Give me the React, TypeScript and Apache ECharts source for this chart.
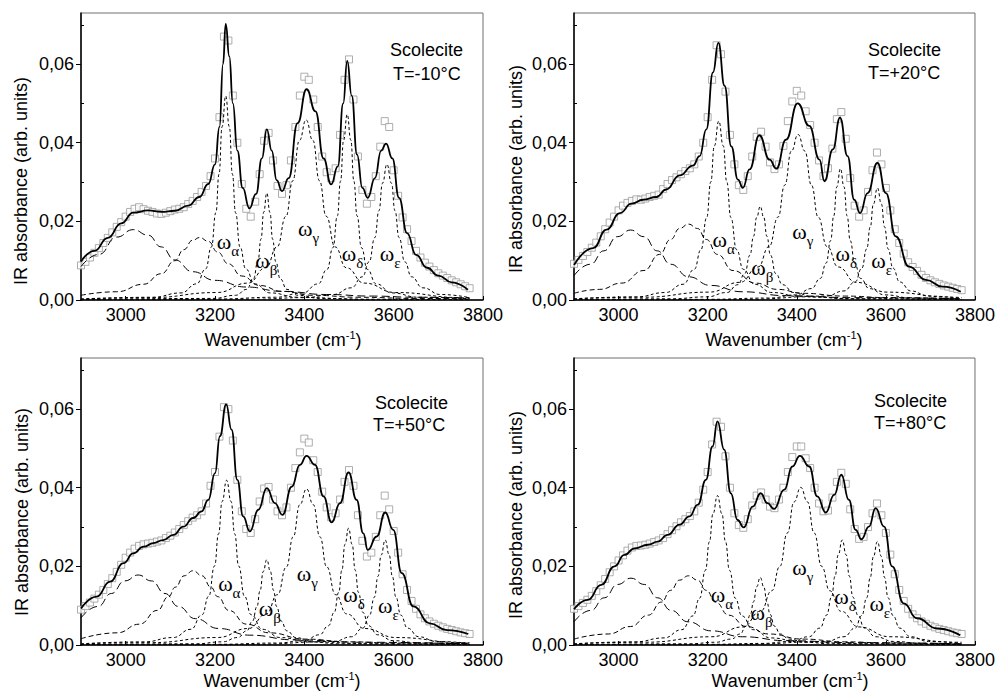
import React, { useEffect, useRef } from 'react';
import * as echarts from 'echarts';

// ---------- shared axis values ----------
const X_TICKS = [3000, 3200, 3400, 3600, 3800];
const Y_TICKS = [0, 0.02, 0.04, 0.06];
const Y_MINOR = [0.01, 0.03, 0.05, 0.07];

// wavenumber grid of the measured points (cm-1)
const SAMPLE_X = [
  2900, 2910, 2920, 2930, 2940, 2950, 2960, 2970, 2980, 2990,
  3000, 3010, 3020, 3030, 3040, 3050, 3060, 3070, 3080, 3090,
  3100, 3110, 3120, 3130, 3140, 3150, 3160, 3170, 3180, 3190,
  3200, 3210, 3220, 3230, 3240, 3250, 3260, 3270, 3280, 3290,
  3300, 3310, 3320, 3330, 3340, 3350, 3360, 3370, 3380, 3390,
  3400, 3410, 3420, 3430, 3440, 3450, 3460, 3470, 3480, 3490,
  3500, 3510, 3520, 3530, 3540, 3550, 3560, 3570, 3580, 3590,
  3600, 3610, 3620, 3630, 3640, 3650, 3660, 3670, 3680, 3690,
  3700, 3710, 3720, 3730, 3740, 3750, 3760, 3770,
];

// ---------- T = -10 C ----------
const M10_SCATTER = [
  .0088, .0097, .0108, .0120, .0132, .0145, .0158, .0172, .0186, .0198,
  .0212, .0224, .0232, .0236, .0231, .0227, .0224, .0220, .0219, .0222,
  .0226, .0230, .0232, .0236, .0244, .0252, .0262, .0275, .0290, .0315,
  .0360, .0465, .0670, .0660, .0520, .0400, .0295, .0232, .0212, .0250,
  .0320, .0405, .0425, .0355, .0290, .0270, .0292, .0355, .0440, .0520,
  .0568, .0560, .0510, .0440, .0365, .0325, .0310, .0335, .0420, .0560,
  .0612, .0510, .0365, .0280, .0245, .0262, .0315, .0390, .0455, .0440,
  .0330, .0265, .0210, .0180, .0150, .0125, .0108, .0095, .0085, .0076,
  .0068, .0062, .0056, .0050, .0045, .0040, .0035, .0030,
];
const M10_FIT = [
  [2900, .0098], [2930, .0125], [2960, .0158], [2990, .0195], [3017, .0222], [3050, .0228], [3080, .0224],
  [3110, .0227], [3140, .0240], [3165, .0262], [3185, .0295], [3200, .0345], [3210, .0440], [3218, .0600],
  [3224, .0702], [3232, .0620], [3240, .0500], [3250, .0380], [3262, .0285], [3277, .0233], [3292, .0270],
  [3305, .0360], [3316, .0434], [3327, .0380], [3338, .0305], [3350, .0277], [3365, .0310], [3385, .0450],
  [3405, .0536], [3425, .0480], [3443, .0360], [3460, .0294], [3475, .0340], [3487, .0500], [3496, .0608],
  [3506, .0520], [3518, .0370], [3530, .0285], [3542, .0260], [3558, .0310], [3572, .0380], [3583, .0398],
  [3597, .0360], [3612, .0260], [3630, .0170], [3650, .0115], [3675, .0082], [3700, .0062], [3730, .0045],
  [3766, .0026],
];
const M10_C1 = [[2900, .0085], [2940, .0116], [2980, .0160], [3017, .0179], [3050, .0165], [3080, .0135], [3110, .0102], [3150, .0072], [3200, .0050], [3270, .0033], [3350, .0022], [3450, .0014], [3550, .0010], [3650, .0007], [3770, .0005]];
const M10_C2 = [[2900, .0012], [2980, .0021], [3040, .0040], [3080, .0067], [3110, .0100], [3130, .0128], [3150, .0152], [3166, .0159], [3185, .0149], [3206, .0122], [3230, .0092], [3260, .0061], [3300, .0037], [3350, .0022], [3420, .0012], [3520, .0007], [3650, .0004], [3770, .0003]];
const M10_ALPHA = [[2900, .0002], [3060, .0007], [3124, .0018], [3159, .0041], [3179, .0079], [3192, .0135], [3202, .0222], [3209, .0320], [3216, .0441], [3224, .0519], [3232, .0441], [3239, .0320], [3246, .0222], [3256, .0135], [3269, .0079], [3289, .0041], [3324, .0018], [3384, .0007], [3524, .0002], [3770, .0001]];
const M10_BETA = [[2900, .0001], [3196, .0004], [3246, .0012], [3271, .0027], [3286, .0054], [3296, .0098], [3303, .0155], [3309, .0223], [3316, .0272], [3323, .0223], [3329, .0155], [3336, .0098], [3346, .0054], [3361, .0027], [3386, .0012], [3436, .0004], [3566, .0001], [3770, .0001]];
const M10_GAMMA = [[2900, .0003], [3054, .0006], [3204, .0019], [3274, .0043], [3314, .0082], [3339, .0135], [3359, .0213], [3374, .0303], [3389, .0406], [3404, .0458], [3419, .0406], [3434, .0303], [3449, .0213], [3469, .0135], [3494, .0082], [3534, .0043], [3604, .0019], [3754, .0006], [3770, .0006]];
const M10_DELTA = [[2900, .0001], [3196, .0002], [3336, .0007], [3396, .0018], [3431, .0041], [3451, .0078], [3464, .0133], [3474, .0214], [3481, .0302], [3488, .0407], [3496, .0472], [3504, .0407], [3511, .0302], [3518, .0214], [3528, .0133], [3541, .0078], [3561, .0041], [3596, .0018], [3656, .0007], [3770, .0003]];
const M10_EPS = [[2900, .0001], [3285, .0002], [3400, .0006], [3465, .0014], [3505, .0031], [3530, .0059], [3545, .0097], [3558, .0159], [3567, .0227], [3575, .0297], [3585, .0345], [3595, .0297], [3603, .0227], [3612, .0159], [3625, .0097], [3640, .0059], [3665, .0031], [3705, .0014], [3770, .0006]];
const M10_LABELS = [[3204, .0140, 'α'], [3290, .0094, 'β'], [3386, .0173, 'γ'], [3484, .0110, 'δ'], [3569, .0110, 'ε']];

// ---------- T = +20 C ----------
const P20_SCATTER = [
  .0092, .0102, .0112, .0122, .0133, .0146, .0162, .0180, .0197, .0212,
  .0228, .0240, .0247, .0252, .0256, .0255, .0258, .0262, .0265, .0268,
  .0282, .0295, .0305, .0312, .0320, .0328, .0335, .0345, .0365, .0400,
  .0465, .0560, .0648, .0625, .0530, .0420, .0345, .0292, .0280, .0315,
  .0365, .0415, .0428, .0390, .0350, .0333, .0345, .0392, .0455, .0505,
  .0532, .0520, .0480, .0445, .0400, .0355, .0315, .0335, .0385, .0460,
  .0478, .0410, .0310, .0240, .0212, .0228, .0275, .0330, .0375, .0345,
  .0285, .0228, .0180, .0145, .0118, .0096, .0084, .0074, .0064, .0056,
  .0050, .0045, .0041, .0037, .0034, .0031, .0028, .0025,
];
const P20_FIT = [
  [2900, .0089], [2943, .0132], [2973, .0179], [3003, .0221], [3029, .0245], [3055, .0255], [3085, .0262],
  [3107, .0281], [3137, .0317], [3167, .0342], [3182, .0366], [3197, .0434], [3212, .0579], [3224, .0654],
  [3238, .0545], [3253, .0391], [3268, .0306], [3279, .0285], [3294, .0332], [3316, .0419], [3339, .0357],
  [3354, .0334], [3376, .0408], [3402, .0500], [3428, .0443], [3451, .0357], [3462, .0302], [3481, .0383],
  [3497, .0464], [3514, .0366], [3529, .0255], [3542, .0221], [3559, .0272], [3581, .0349], [3600, .0272],
  [3622, .0162], [3652, .0085], [3690, .0051], [3727, .0034], [3768, .0021],
];
const P20_C1 = [[2900, .0062], [2937, .0091], [2967, .0125], [2997, .0161], [3027, .0178], [3057, .0161], [3087, .0125], [3117, .0091], [3157, .0059], [3207, .0037], [3277, .0021], [3377, .0011], [3527, .0006], [3770, .0003]];
const P20_C2 = [[2900, .0017], [2957, .0027], [3007, .0043], [3057, .0075], [3092, .0116], [3117, .0154], [3137, .0182], [3157, .0193], [3177, .0182], [3197, .0154], [3222, .0116], [3257, .0075], [3307, .0043], [3357, .0027], [3414, .0017], [3507, .0010], [3607, .0006], [3770, .0003]];
const P20_ALPHA = [[2900, .0003], [3040, .0008], [3105, .0019], [3145, .0040], [3170, .0078], [3185, .0128], [3198, .0210], [3207, .0300], [3215, .0392], [3225, .0455], [3235, .0392], [3243, .0300], [3252, .0210], [3265, .0128], [3280, .0078], [3305, .0040], [3345, .0019], [3410, .0008], [3550, .0003], [3770, .0001]];
const P20_BETA = [[2900, .0001], [3118, .0003], [3198, .0008], [3243, .0019], [3268, .0039], [3283, .0067], [3295, .0114], [3303, .0162], [3310, .0210], [3318, .0238], [3326, .0210], [3333, .0162], [3341, .0114], [3353, .0067], [3368, .0039], [3393, .0019], [3438, .0008], [3518, .0003], [3770, .0001]];
const P20_GAMMA = [[2900, .0003], [3053, .0007], [3203, .0020], [3273, .0045], [3313, .0084], [3338, .0136], [3358, .0211], [3373, .0292], [3388, .0379], [3403, .0421], [3418, .0379], [3433, .0292], [3448, .0211], [3468, .0136], [3493, .0084], [3533, .0045], [3603, .0020], [3753, .0007], [3770, .0006]];
const P20_DELTA = [[2900, .0001], [3198, .00015], [3338, .0005], [3398, .0013], [3433, .0029], [3453, .0055], [3466, .0094], [3476, .0151], [3483, .0214], [3490, .0288], [3498, .0334], [3506, .0288], [3513, .0214], [3520, .0151], [3530, .0094], [3543, .0055], [3563, .0029], [3598, .0013], [3658, .0005], [3770, .0002]];
const P20_EPS = [[2900, .0001], [3281, .00015], [3466, .0010], [3506, .0023], [3531, .0046], [3546, .0081], [3557, .0130], [3565, .0186], [3572, .0244], [3581, .0285], [3590, .0244], [3597, .0186], [3605, .0130], [3616, .0081], [3631, .0046], [3656, .0023], [3696, .0010], [3770, .0004]];
const P20_LABELS = [[3211, .0145, 'α'], [3298, .0076, 'β'], [3390, .0166, 'γ'], [3487, .0110, 'δ'], [3567, .0094, 'ε']];

// ---------- T = +50 C ----------
const P50_SCATTER = [
  .0090, .0099, .0108, .0118, .0128, .0140, .0155, .0170, .0186, .0204,
  .0222, .0235, .0245, .0252, .0256, .0258, .0260, .0263, .0266, .0272,
  .0278, .0286, .0295, .0305, .0315, .0324, .0330, .0340, .0360, .0405,
  .0440, .0530, .0605, .0600, .0520, .0420, .0340, .0295, .0285, .0320,
  .0365, .0398, .0402, .0370, .0340, .0330, .0350, .0400, .0450, .0490,
  .0525, .0515, .0470, .0440, .0390, .0350, .0325, .0335, .0370, .0415,
  .0445, .0405, .0330, .0265, .0225, .0235, .0275, .0330, .0380, .0345,
  .0290, .0235, .0180, .0140, .0112, .0092, .0078, .0068, .0060, .0054,
  .0049, .0045, .0041, .0038, .0035, .0032, .0030, .0028,
];
const P50_FIT = [
  [2900, .0093], [2935, .0123], [2965, .0161], [2995, .0208], [3017, .0233], [3040, .0250], [3062, .0259],
  [3084, .0267], [3107, .0280], [3129, .0301], [3151, .0323], [3170, .0340], [3185, .0369], [3200, .0437],
  [3211, .0531], [3225, .0612], [3237, .0548], [3250, .0420], [3263, .0327], [3278, .0289], [3297, .0344],
  [3316, .0399], [3334, .0361], [3351, .0331], [3372, .0403], [3390, .0458], [3405, .0481], [3424, .0458],
  [3443, .0378], [3461, .0312], [3480, .0361], [3499, .0439], [3517, .0369], [3532, .0284], [3542, .0242],
  [3562, .0276], [3581, .0337], [3599, .0293], [3618, .0183], [3644, .0098], [3681, .0055], [3719, .0038],
  [3767, .0028],
];
const P50_C1 = [[2900, .0069], [2938, .0098], [2968, .0131], [2998, .0163], [3028, .0178], [3058, .0163], [3088, .0131], [3118, .0098], [3156, .0067], [3208, .0042], [3278, .0025], [3378, .0013], [3528, .0007], [3770, .0003]];
const P50_C2 = [[2900, .0016], [2981, .0031], [3031, .0053], [3071, .0088], [3096, .0123], [3111, .0147], [3131, .0176], [3151, .0189], [3171, .0176], [3191, .0147], [3206, .0123], [3231, .0088], [3271, .0053], [3321, .0031], [3402, .0015], [3501, .0008], [3601, .0005], [3770, .0003]];
const P50_ALPHA = [[2900, .0003], [3041, .0008], [3106, .0019], [3146, .0040], [3171, .0077], [3186, .0124], [3199, .0201], [3208, .0283], [3216, .0365], [3226, .0419], [3236, .0365], [3244, .0283], [3253, .0201], [3266, .0124], [3281, .0077], [3306, .0040], [3346, .0019], [3411, .0008], [3552, .0003], [3770, .0001]];
const P50_BETA = [[2900, .0001], [3156, .0003], [3216, .0008], [3251, .0019], [3271, .0036], [3284, .0061], [3294, .0098], [3301, .0139], [3308, .0187], [3316, .0217], [3324, .0187], [3331, .0139], [3338, .0098], [3348, .0061], [3361, .0036], [3381, .0019], [3416, .0008], [3476, .0003], [3770, .0001]];
const P50_GAMMA = [[2900, .0003], [3055, .0006], [3205, .0019], [3275, .0042], [3315, .0079], [3340, .0128], [3360, .0199], [3375, .0275], [3390, .0357], [3405, .0397], [3420, .0357], [3435, .0275], [3450, .0199], [3470, .0128], [3495, .0079], [3535, .0042], [3605, .0019], [3755, .0006], [3770, .0006]];
const P50_DELTA = [[2900, .0001], [3199, .00015], [3339, .0005], [3399, .0011], [3434, .0026], [3454, .0049], [3467, .0083], [3477, .0134], [3484, .0190], [3491, .0256], [3499, .0297], [3507, .0256], [3514, .0190], [3521, .0134], [3531, .0083], [3544, .0049], [3564, .0026], [3599, .0011], [3659, .0005], [3770, .0002]];
const P50_EPS = [[2900, .0001], [3281, .00015], [3466, .0009], [3506, .0021], [3531, .0043], [3546, .0076], [3557, .0122], [3565, .0175], [3572, .0229], [3581, .0267], [3590, .0229], [3597, .0175], [3605, .0122], [3616, .0076], [3631, .0043], [3656, .0021], [3696, .0009], [3770, .0004]];
const P50_LABELS = [[3207, .0148, 'α'], [3298, .0084, 'β'], [3383, .0173, 'γ'], [3487, .0122, 'δ'], [3565, .0094, 'ε']];

// ---------- T = +80 C ----------
const P80_SCATTER = [
  .0092, .0099, .0107, .0115, .0125, .0137, .0152, .0168, .0185, .0200,
  .0215, .0228, .0240, .0248, .0252, .0253, .0255, .0258, .0262, .0266,
  .0272, .0282, .0292, .0302, .0312, .0320, .0328, .0340, .0362, .0395,
  .0440, .0510, .0568, .0555, .0480, .0400, .0335, .0305, .0298, .0320,
  .0355, .0380, .0388, .0370, .0352, .0348, .0370, .0400, .0440, .0478,
  .0505, .0505, .0475, .0450, .0400, .0360, .0340, .0342, .0375, .0415,
  .0438, .0410, .0345, .0295, .0270, .0275, .0300, .0335, .0360, .0330,
  .0285, .0230, .0180, .0140, .0112, .0092, .0078, .0068, .0060, .0054,
  .0049, .0045, .0041, .0038, .0035, .0032, .0030, .0028,
];
const P80_FIT = [
  [2900, .0091], [2931, .0115], [2961, .0153], [2991, .0200], [3013, .0229], [3036, .0246], [3066, .0255],
  [3088, .0263], [3110, .0280], [3137, .0306], [3159, .0327], [3178, .0357], [3196, .0420], [3211, .0505],
  [3222, .0569], [3237, .0497], [3252, .0386], [3267, .0318], [3281, .0299], [3301, .0352], [3319, .0386],
  [3334, .0361], [3349, .0346], [3372, .0395], [3390, .0454], [3407, .0481], [3428, .0454], [3446, .0378],
  [3465, .0337], [3484, .0382], [3500, .0433], [3517, .0369], [3532, .0293], [3545, .0269], [3562, .0301],
  [3577, .0348], [3596, .0301], [3614, .0200], [3640, .0106], [3670, .0068], [3715, .0042], [3767, .0025],
];
const P80_C1 = [[2900, .0059], [2938, .0088], [2968, .0120], [2998, .0154], [3028, .0170], [3058, .0154], [3088, .0120], [3118, .0088], [3156, .0059], [3208, .0036], [3278, .0021], [3378, .0011], [3528, .0006], [3770, .0003]];
const P80_C2 = [[2900, .0015], [2977, .0028], [3027, .0047], [3067, .0076], [3096, .0109], [3117, .0139], [3137, .0165], [3157, .0176], [3177, .0165], [3197, .0139], [3218, .0109], [3247, .0076], [3287, .0047], [3337, .0028], [3414, .0015], [3507, .0008], [3607, .0005], [3770, .0003]];
const P80_ALPHA = [[2900, .0003], [3037, .0008], [3102, .0018], [3142, .0039], [3167, .0074], [3182, .0119], [3195, .0190], [3204, .0263], [3212, .0334], [3222, .0380], [3232, .0334], [3240, .0263], [3249, .0190], [3262, .0119], [3277, .0074], [3302, .0039], [3342, .0018], [3407, .0008], [3544, .0003], [3770, .0001]];
const P80_BETA = [[2900, .0001], [3158, .0003], [3218, .0007], [3253, .0015], [3273, .0028], [3286, .0048], [3296, .0078], [3303, .0110], [3310, .0148], [3318, .0172], [3326, .0148], [3333, .0110], [3340, .0078], [3350, .0048], [3363, .0028], [3383, .0015], [3418, .0007], [3478, .0003], [3770, .0001]];
const P80_GAMMA = [[2900, .0003], [3059, .0007], [3209, .0021], [3279, .0046], [3319, .0086], [3344, .0138], [3362, .0200], [3379, .0285], [3394, .0364], [3409, .0401], [3424, .0364], [3439, .0285], [3456, .0200], [3474, .0138], [3499, .0086], [3539, .0046], [3609, .0021], [3759, .0007], [3770, .0007]];
const P80_DELTA = [[2900, .0001], [3202, .00015], [3322, .0004], [3387, .0009], [3427, .0021], [3452, .0043], [3467, .0076], [3478, .0122], [3486, .0175], [3493, .0229], [3502, .0267], [3511, .0229], [3518, .0175], [3526, .0122], [3537, .0076], [3552, .0043], [3577, .0021], [3617, .0009], [3682, .0004], [3770, .0002]];
const P80_EPS = [[2900, .0001], [3281, .00015], [3466, .0009], [3506, .0021], [3531, .0043], [3546, .0075], [3557, .0120], [3565, .0172], [3572, .0225], [3581, .0263], [3590, .0225], [3597, .0172], [3605, .0120], [3616, .0075], [3631, .0043], [3656, .0021], [3696, .0009], [3770, .0004]];
const P80_LABELS = [[3207, .0120, 'α'], [3296, .0074, 'β'], [3390, .0190, 'γ'], [3484, .0115, 'δ'], [3563, .0097, 'ε']];

const PANEL_TITLES = ['T=-10°C', 'T=+20°C', 'T=+50°C', 'T=+80°C'];

const FONT = 'Liberation Sans';
const SERIF = 'Liberation Serif';

const PANELS = [
  { scatter: M10_SCATTER, fit: M10_FIT, comps: [M10_C1, M10_C2, M10_ALPHA, M10_BETA, M10_GAMMA, M10_DELTA, M10_EPS], labels: M10_LABELS },
  { scatter: P20_SCATTER, fit: P20_FIT, comps: [P20_C1, P20_C2, P20_ALPHA, P20_BETA, P20_GAMMA, P20_DELTA, P20_EPS], labels: P20_LABELS },
  { scatter: P50_SCATTER, fit: P50_FIT, comps: [P50_C1, P50_C2, P50_ALPHA, P50_BETA, P50_GAMMA, P50_DELTA, P50_EPS], labels: P50_LABELS },
  { scatter: P80_SCATTER, fit: P80_FIT, comps: [P80_C1, P80_C2, P80_ALPHA, P80_BETA, P80_GAMMA, P80_DELTA, P80_EPS], labels: P80_LABELS },
];

const GRIDS = [
  { left: 81, top: 13, width: 402, height: 287 },
  { left: 574, top: 13, width: 403, height: 287 },
  { left: 81, top: 358, width: 402, height: 287 },
  { left: 574, top: 358, width: 403, height: 287 },
];

// annotation positions (pixels)
const TEXT_POS = [
  { sx: 390, sy: 50, tx: 393, ty: 74, yx: 21, yy: 181, xx: 283, xy: 339 },
  { sx: 868, sy: 50, tx: 868, ty: 73, yx: 516, yy: 169, xx: 784, xy: 339 },
  { sx: 375, sy: 403, tx: 373, ty: 425, yx: 22, yy: 512, xx: 282, xy: 680 },
  { sx: 874, sy: 401, tx: 874, ty: 423, yx: 516, yy: 515, xx: 790, xy: 680 },
];

const DASHES = [[8, 4], [5, 3], [3, 2.5], [3, 2.5], [3, 2.5], [3, 2.5], [3, 2.5]];

function baseGraphic() {
  const graphic: any[] = [];
  TEXT_POS.forEach((t, i) => {
    graphic.push({
      type: 'text', x: t.sx, y: t.sy,
      style: { text: 'Scolecite', fontSize: 18, fontFamily: FONT, fill: '#000', align: 'left', verticalAlign: 'middle' },
    });
    graphic.push({
      type: 'text', x: t.tx, y: t.ty,
      style: { text: PANEL_TITLES[i], fontSize: 18, fontFamily: FONT, fill: '#000', align: 'left', verticalAlign: 'middle' },
    });
    graphic.push({
      type: 'text', x: t.yx, y: t.yy, rotation: Math.PI / 2,
      style: { text: 'IR absorbance (arb. units)', fontSize: 18, fontFamily: FONT, fill: '#000', align: 'center', verticalAlign: 'middle' },
    });
    graphic.push({
      type: 'text', x: t.xx, y: t.xy,
      style: {
        text: '{n|Wavenumber (cm}{s|-1}{n|)}',
        align: 'center',
        verticalAlign: 'middle',
        rich: {
          n: { fontSize: 18, fontFamily: FONT, fill: '#000', lineHeight: 20, verticalAlign: 'bottom' },
          s: { fontSize: 11, fontFamily: FONT, fill: '#000', lineHeight: 11, verticalAlign: 'top' },
        },
      },
    });
  });
  return graphic;
}

function buildOption() {
  const grid = GRIDS.map((g) => ({ ...g, show: true, borderColor: '#6e6e6e', borderWidth: 1, backgroundColor: 'transparent' }));
  const xAxis = GRIDS.map((_, i) => ({
    gridIndex: i,
    type: 'value',
    min: 2900,
    max: 3800,
    axisLine: { show: true, onZero: false, lineStyle: { color: '#000', width: 1.5 } },
    axisTick: { show: true, customValues: X_TICKS, inside: true, length: 4, lineStyle: { color: '#000', width: 1 } },
    axisLabel: {
      customValues: X_TICKS,
      formatter: (v: number) => String(Math.round(v)),
      fontSize: 18,
      fontFamily: FONT,
      color: '#000',
      margin: 6,
    },
    splitLine: { show: false },
  }));
  const yAxis: any[] = [];
  GRIDS.forEach((_, i) => {
    yAxis.push({
      gridIndex: i,
      type: 'value',
      position: 'left',
      min: 0,
      max: 0.073,
      axisLine: { show: true, onZero: false, lineStyle: { color: '#000', width: 1.5 } },
      axisTick: { show: true, customValues: Y_TICKS, length: 5, lineStyle: { color: '#000', width: 1 } },
      axisLabel: {
        customValues: Y_TICKS,
        formatter: (v: number) => v.toFixed(2).replace('.', ','),
        fontSize: 18,
        fontFamily: FONT,
        color: '#000',
        margin: 7,
      },
      splitLine: { show: false },
    });
    yAxis.push({
      gridIndex: i,
      type: 'value',
      position: 'left',
      offset: 0,
      min: 0,
      max: 0.073,
      axisLine: { show: false },
      axisTick: { show: true, inside: true, customValues: Y_MINOR, length: 3, lineStyle: { color: '#000', width: 1 } },
      axisLabel: { show: false },
      splitLine: { show: false },
    });
  });

  const series: any[] = [];
  PANELS.forEach((p, i) => {
    series.push({
      type: 'scatter',
      xAxisIndex: i,
      yAxisIndex: 2 * i,
      data: SAMPLE_X.map((x, k) => [x, p.scatter[k]]),
      symbol: 'rect',
      symbolSize: 7,
      itemStyle: { color: '#ffffff', borderColor: '#9a9a9a', borderWidth: 1 },
      z: 1,
      silent: true,
    });
    p.comps.forEach((c, k) => {
      series.push({
        type: 'line',
        xAxisIndex: i,
        yAxisIndex: 2 * i,
        data: c,
        showSymbol: false,
        smooth: 0.5,
        smoothMonotone: 'x',
        lineStyle: { color: '#000', width: 1, type: DASHES[k] },
        z: 2,
        silent: true,
      });
    });
    series.push({
      type: 'line',
      xAxisIndex: i,
      yAxisIndex: 2 * i,
      data: p.fit,
      showSymbol: false,
      smooth: 0.5,
      smoothMonotone: 'x',
      lineStyle: { color: '#000', width: 1.8 },
      z: 3,
      silent: true,
    });
  });

  return { animation: false, grid, xAxis, yAxis, series, graphic: baseGraphic() };
}

export default function App() {
  const ref = useRef<HTMLDivElement>(null);
  useEffect(() => {
    document.body.style.margin = '0';
    const chart = echarts.init(ref.current!, undefined, { renderer: 'svg' });
    chart.setOption(buildOption() as any);
    // omega labels: anchored in data coordinates through the axes' scales
    const omegas: any[] = [];
    PANELS.forEach((p, i) => {
      p.labels.forEach((l) => {
        const pt = chart.convertToPixel({ xAxisIndex: i, yAxisIndex: 2 * i } as any, [l[0] as number, l[1] as number]) as number[];
        omegas.push({
          type: 'text',
          x: pt[0],
          y: pt[1],
          z: 10,
          style: {
            text: `{w|ω}{s|${l[2]}}`,
            align: 'left',
            verticalAlign: 'middle',
            rich: {
              w: { fontFamily: SERIF, fontSize: 22, fill: '#000', lineHeight: 28, verticalAlign: 'top' },
              s: { fontFamily: SERIF, fontSize: 15, fill: '#000', lineHeight: 15, verticalAlign: 'bottom' },
            },
          },
        });
      });
    });
    chart.setOption({ graphic: [...baseGraphic(), ...omegas] } as any);
    return () => chart.dispose();
  }, []);
  return <div ref={ref} style={{ width: 998, height: 693, background: '#fff' }} />;
}
